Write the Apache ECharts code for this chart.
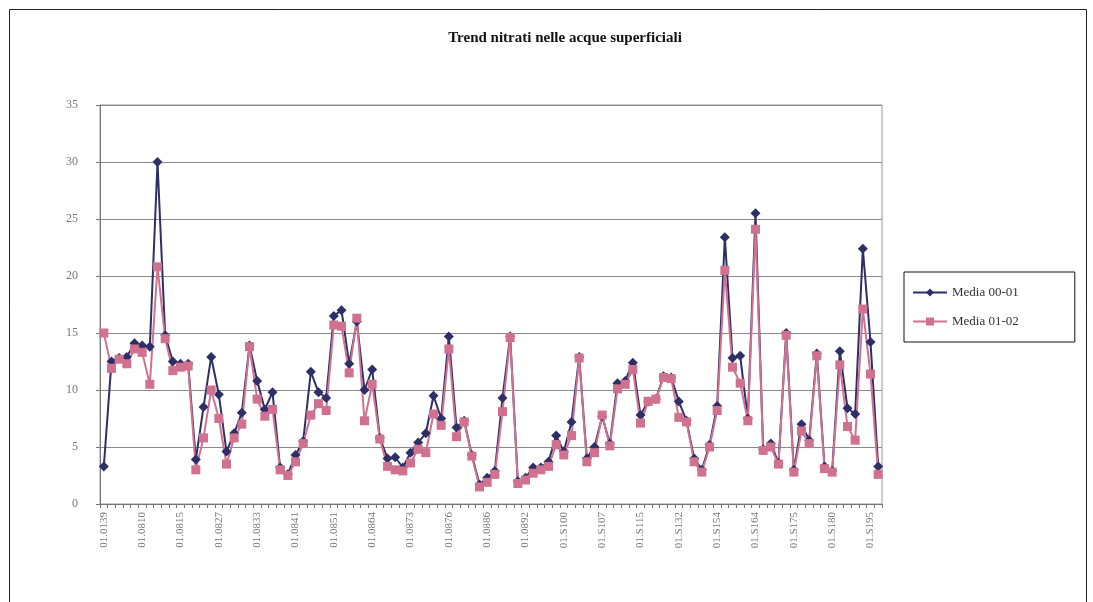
<!DOCTYPE html>
<html>
<head>
<meta charset="utf-8">
<script src="https://cdn.jsdelivr.net/npm/echarts@6/dist/echarts.min.js"></script>
<style>html,body{margin:0;padding:0;background:#fff}#c{width:1093px;height:602px}</style>
</head>
<body>
<div id="c"></div>
<script>
const tickLabels = ["01.0139","01.0810","01.0815","01.0827","01.0833","01.0841","01.0851","01.0864","01.0873","01.0876","01.0886","01.0892","01.S100","01.S107","01.S115","01.S132","01.S154","01.S164","01.S175","01.S180","01.S195"];
const media0001 = [3.3,12.5,12.8,12.9,14.1,13.9,13.8,30.0,14.8,12.5,12.3,12.3,3.9,8.5,12.9,9.6,4.6,6.2,8.0,13.9,10.8,8.3,9.8,3.2,2.6,4.3,5.5,11.6,9.8,9.3,16.5,17.0,12.3,16.0,10.0,11.8,5.8,4.0,4.1,3.2,4.5,5.4,6.2,9.5,7.5,14.7,6.7,7.3,4.3,1.7,2.3,2.9,9.3,14.7,2.0,2.3,3.2,3.2,3.7,6.0,4.6,7.2,12.9,4.0,5.0,7.7,5.3,10.6,10.8,12.4,7.8,9.0,9.2,11.2,11.1,9.0,7.3,4.0,3.0,5.2,8.6,23.4,12.8,13.0,7.5,25.5,4.8,5.3,3.6,15.0,3.0,7.0,5.6,13.2,3.3,2.9,13.4,8.4,7.9,22.4,14.2,3.3];
const media0102 = [15.0,11.9,12.7,12.3,13.6,13.3,10.5,20.8,14.5,11.7,12.0,12.1,3.0,5.8,10.0,7.5,3.5,5.8,7.0,13.8,9.2,7.7,8.3,3.0,2.5,3.7,5.3,7.8,8.8,8.2,15.7,15.6,11.5,16.3,7.3,10.5,5.7,3.3,3.0,2.9,3.6,4.8,4.5,7.9,6.9,13.6,5.9,7.2,4.2,1.5,1.9,2.6,8.1,14.6,1.8,2.1,2.7,3.0,3.3,5.2,4.3,6.0,12.8,3.7,4.5,7.8,5.1,10.1,10.5,11.8,7.1,9.0,9.2,11.1,11.0,7.6,7.2,3.7,2.8,5.0,8.2,20.5,12.0,10.6,7.3,24.1,4.7,5.0,3.5,14.8,2.8,6.4,5.3,13.0,3.1,2.8,12.2,6.8,5.6,17.1,11.4,2.6];
const categories = media0001.map((v, i) => String(i));

const serif = "'Liberation Serif','DejaVu Serif',serif";
const chart = echarts.init(document.getElementById('c'), null, {renderer: 'canvas'});
chart.setOption({
  animation: false,
  backgroundColor: '#fff',
  graphic: [{
    type: 'rect', left: 7, top: 7, silent: true,
    shape: {width: 1077, height: 600},
    style: {fill: 'none', stroke: '#222', lineWidth: 1}
  }],
  title: {
    text: 'Trend nitrati nelle acque superficiali',
    left: 560, top: 26, textAlign: 'center',
    textStyle: {fontFamily: serif, fontSize: 15, fontWeight: 'bold', color: '#111'}
  },
  legend: {
    orient: 'vertical', left: 904, top: 272,
    padding: [14, 56, 14, 8], itemGap: 16,
    borderColor: '#111', borderWidth: 1,
    itemWidth: 34, itemHeight: 10,
    textStyle: {fontFamily: serif, fontSize: 13, color: '#333'},
    data: ['Media 00-01', 'Media 01-02']
  },
  grid: {left: 100, right: 211, top: 105, bottom: 98, show: true, borderColor: '#999', borderWidth: 1},
  xAxis: {
    type: 'category', data: categories, boundaryGap: true,
    axisLine: {lineStyle: {color: '#777'}},
    axisTick: {show: true, interval: 0, length: 4, lineStyle: {color: '#777'}},
    axisLabel: {
      interval: 4, rotate: 90, fontFamily: serif, fontSize: 11, color: '#777', margin: 8,
      formatter: (v, i) => (i % 5 === 0 ? tickLabels[i / 5] : '')
    },
    splitLine: {show: false}
  },
  yAxis: {
    type: 'value', min: 0, max: 35, interval: 5,
    axisLine: {show: true, lineStyle: {color: '#777'}},
    axisTick: {show: true, length: 4, lineStyle: {color: '#777'}},
    axisLabel: {fontFamily: serif, fontSize: 12, color: '#777', margin: 22},
    splitLine: {lineStyle: {color: '#8a8a8a', width: 1}}
  },
  series: [
    {
      name: 'Media 00-01', type: 'line', data: media0001,
      symbol: 'diamond', symbolSize: 10, showSymbol: true, showAllSymbol: true,
      lineStyle: {color: '#2d2f66', width: 2},
      itemStyle: {color: '#2d2f66'}
    },
    {
      name: 'Media 01-02', type: 'line', data: media0102,
      symbol: 'rect', symbolSize: 9, showSymbol: true, showAllSymbol: true,
      lineStyle: {color: '#d0728f', width: 2},
      itemStyle: {color: '#d0728f'}
    }
  ]
});
</script>
</body>
</html>
